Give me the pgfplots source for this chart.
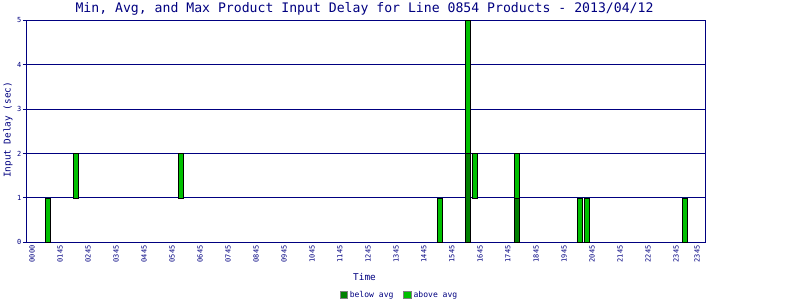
\documentclass[border=0pt]{standalone}
\usepackage{fontspec}
\setmainfont{DejaVu Sans Mono}
\usepackage{pgfplots}
\usepackage{pgfplotstable}
\pgfplotsset{compat=1.18}
\definecolor{navy}{RGB}{0,0,128}
\definecolor{darkg}{RGB}{0,128,0}
\definecolor{lightg}{RGB}{0,192,0}
\definecolor{legendgray}{RGB}{128,128,128}
% slot index, min, avg, max
\pgfplotstableread{
x min avg max
3 0 0 1
7 1 1 2
22 1 1 2
59 0 0 1
63 0 2 5
64 1 1 2
70 0 1 2
79 0 0 1
80 0 0 1
94 0 0 1
}\bars
\begin{document}
\begin{tikzpicture}
\useasboundingbox (0,0) rectangle (800bp,300bp);
\begin{axis}[
  at={(26bp,57.7bp)}, anchor=south west,
  scale only axis, width=679.3bp, height=222bp,
  xmin=-0.143, xmax=96.9, ymin=0, ymax=5,
  clip mode=individual,
  ybar stacked, bar width=4.6bp,
  axis line style={navy, line width=0.9bp},
  ymajorgrids, major grid style={draw=navy, line width=0.9bp},
  ytick={0,1,2,3,4,5},
  tick align=outside, ytick pos=left, xtick pos=bottom,
  major tick length=3bp,
  ytick style={draw=navy, line width=0.9bp},
  xtick style={draw=none},
  xtick={0.714,4.714,8.714,12.714,16.714,20.714,24.714,28.714,32.714,36.714,40.714,44.714,48.714,52.714,56.714,60.714,64.714,68.714,72.714,76.714,80.714,84.714,88.714,92.714,95.714},
  xticklabels={0000,0145,0245,0345,0445,0545,0645,0745,0845,0945,1045,1145,1245,1345,1445,1545,1645,1745,1845,1945,2045,2145,2245,2345,2345},
  xticklabel style={rotate=90, anchor=east, font=\fontsize{7}{8}\selectfont, text=navy, inner sep=0pt},
  yticklabel style={font=\fontsize{7}{8}\selectfont, text=navy, inner sep=1.5bp},
  /pgf/number format/assume math mode=true,
  legend style={at={(axis description cs:0.5498,-0.2374)}, anchor=center, draw=none, fill=none,
    legend columns=2, font=\fontsize{8.1}{9}\selectfont, text=navy, inner sep=0pt,
    /tikz/every even column/.append style={column sep=8bp}},
  legend cell align=left,
]
\addplot[draw=none, fill=none, forget plot] table[x=x, y=min] \bars;
\addplot[draw=black, line width=0.75bp, fill=darkg,
  legend image code/.code={\draw[draw=legendgray, line width=0.9bp, fill=darkg] (0bp,-3.6bp) rectangle (7.2bp,3.6bp);}]
  table[x=x, y expr=\thisrow{avg}-\thisrow{min}] \bars;
\addplot[draw=black, line width=0.75bp, fill=lightg,
  legend image code/.code={\draw[draw=legendgray, line width=0.9bp, fill=lightg] (0bp,-3.6bp) rectangle (7.2bp,3.6bp);}]
  table[x=x, y expr=\thisrow{max}-\thisrow{avg}] \bars;
\legend{below avg, above avg}
\node[font=\fontsize{13.2}{14}\selectfont, text=navy] at (axis description cs:0.4983,1.0532) {Min, Avg, and Max Product Input Delay for Line 0854 Products - 2013/04/12};
\node[font=\fontsize{9.4}{10}\selectfont, text=navy] at (axis description cs:0.4983,-0.1563) {Time};
\node[font=\fontsize{9.4}{10}\selectfont, text=navy, rotate=90] at (axis description cs:-0.0265,0.506) {Input Delay (sec)};
\end{axis}
\end{tikzpicture}
\end{document}
